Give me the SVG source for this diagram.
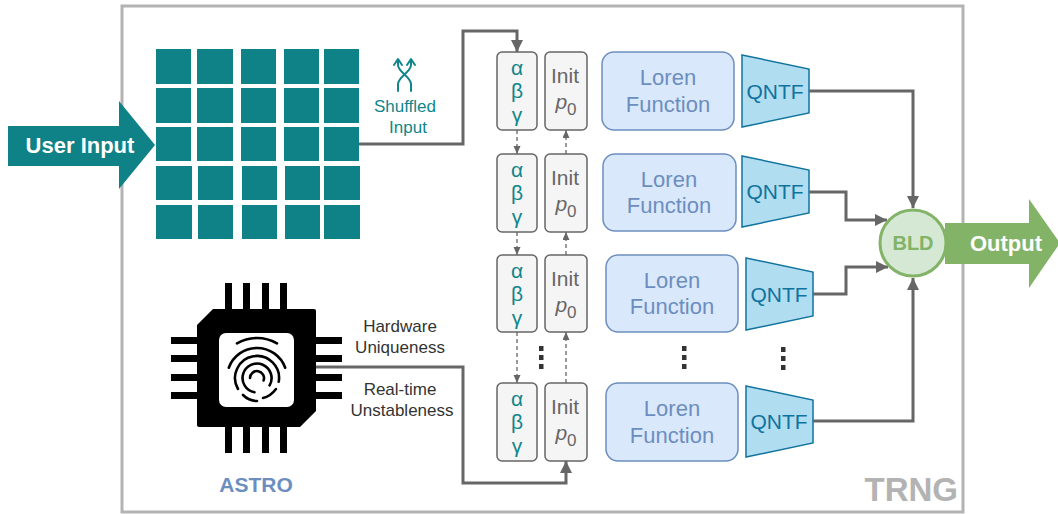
<svg xmlns="http://www.w3.org/2000/svg" width="1058" height="514" viewBox="0 0 1058 514">
  <style>
    text { font-family: "Liberation Sans", Arial, Helvetica, sans-serif; }
    .cell { fill: #0f8287; }
    .param { fill: #f5f5f5; stroke: #666666; stroke-width: 1.5; }
    .greek { fill: #10868a; font-size: 21px; text-anchor: middle; }
    .init { fill: #666666; font-size: 21px; text-anchor: middle; }
    .loren { fill: #dae8fc; stroke: #6c8ebf; stroke-width: 1.5; }
    .loren-t { fill: #6c8ebf; font-size: 22px; text-anchor: middle; }
    .qntf { fill: #b1ddf0; stroke: #10739e; stroke-width: 1.5; }
    .qntf-t { fill: #10739e; font-size: 21px; text-anchor: middle; }
    .label { fill: #333333; font-size: 17px; text-anchor: middle; }
    .wire { fill: none; stroke: #666666; stroke-width: 3; }
    .dash { fill: none; stroke: #666666; stroke-width: 1.3; stroke-dasharray: 4 3; }
    .dot { fill: #333333; }
    .pin { fill: #000000; }
  </style>
  <defs>
    <marker id="head" markerUnits="userSpaceOnUse" markerWidth="14" markerHeight="12" refX="12" refY="6" orient="auto">
      <path d="M0,0 L12,6 L0,12 Z" fill="#666666"/>
    </marker>
    <marker id="head-sm" markerUnits="userSpaceOnUse" markerWidth="9" markerHeight="8" refX="8" refY="3.5" orient="auto">
      <path d="M0,0 L8,3.5 L0,7 Z" fill="#666666"/>
    </marker>
  </defs>

  <!-- TRNG boundary -->
  <g id="trng-frame">
    <rect x="122" y="6" width="841" height="506" fill="#ffffff" stroke="#b3b3b3" stroke-width="3"/>
    <text x="958" y="501" font-size="33" font-weight="bold" fill="#b3b3b3" text-anchor="end">TRNG</text>
  </g>

  <!-- User input arrow -->
  <g id="user-input">
    <polygon points="8,126 119,126 119,101 155,145 119,189 119,166 8,166" fill="#0f8287"/>
    <text x="80" y="153" font-size="22" font-weight="bold" fill="#ffffff" text-anchor="middle">User Input</text>
  </g>

  <!-- Input matrix -->
  <g id="input-grid">
    <rect class="cell" x="156" y="49" width="35" height="35"/>
    <rect class="cell" x="197" y="49" width="36" height="35"/>
    <rect class="cell" x="241" y="49" width="35" height="35"/>
    <rect class="cell" x="284" y="49" width="35" height="35"/>
    <rect class="cell" x="324" y="49" width="35" height="35"/>
    <rect class="cell" x="156" y="88" width="35" height="35"/>
    <rect class="cell" x="197" y="88" width="36" height="35"/>
    <rect class="cell" x="241" y="88" width="35" height="35"/>
    <rect class="cell" x="284" y="88" width="35" height="35"/>
    <rect class="cell" x="324" y="88" width="35" height="35"/>
    <rect class="cell" x="156" y="127" width="35" height="34"/>
    <rect class="cell" x="197" y="127" width="36" height="34"/>
    <rect class="cell" x="241" y="127" width="35" height="34"/>
    <rect class="cell" x="284" y="127" width="35" height="34"/>
    <rect class="cell" x="324" y="127" width="35" height="34"/>
    <rect class="cell" x="156" y="166" width="36" height="34"/>
    <rect class="cell" x="198" y="166" width="35" height="34"/>
    <rect class="cell" x="242" y="166" width="35" height="34"/>
    <rect class="cell" x="285" y="166" width="35" height="34"/>
    <rect class="cell" x="324" y="166" width="36" height="34"/>
    <rect class="cell" x="156" y="205" width="36" height="34"/>
    <rect class="cell" x="198" y="205" width="35" height="34"/>
    <rect class="cell" x="242" y="205" width="35" height="34"/>
    <rect class="cell" x="285" y="205" width="35" height="34"/>
    <rect class="cell" x="324" y="205" width="36" height="34"/>
  </g>

  <!-- Shuffle label -->
  <g id="shuffle">
    <g fill="none" stroke="#10868a" stroke-width="2" stroke-linecap="round" stroke-linejoin="round">
      <path d="M398,91 L398,84 C398,77 411,72 411,65 L411,60"/>
      <path d="M411,91 L411,84 C411,77 398,72 398,65 L398,60"/>
      <path d="M394,65 L398,59 L402,65"/>
      <path d="M407,65 L411,59 L415,65"/>
    </g>
    <text x="405" y="112" font-size="17" fill="#10868a" text-anchor="middle">Shuffled</text>
    <text x="408" y="133" font-size="17" fill="#10868a" text-anchor="middle">Input</text>
  </g>

  <!-- ASTRO chip -->
  <g id="astro-chip">
    <rect class="pin" x="225" y="283" width="7" height="30"/>
    <rect class="pin" x="243" y="283" width="7" height="30"/>
    <rect class="pin" x="262" y="283" width="7" height="30"/>
    <rect class="pin" x="280" y="283" width="7" height="30"/>
    <rect class="pin" x="225" y="423" width="7" height="30"/>
    <rect class="pin" x="243" y="423" width="7" height="30"/>
    <rect class="pin" x="262" y="423" width="7" height="30"/>
    <rect class="pin" x="280" y="423" width="7" height="30"/>
    <rect class="pin" x="171" y="337" width="30" height="7"/>
    <rect class="pin" x="171" y="355" width="30" height="7"/>
    <rect class="pin" x="171" y="374" width="30" height="7"/>
    <rect class="pin" x="171" y="392" width="30" height="7"/>
    <rect class="pin" x="312" y="337" width="30" height="7"/>
    <rect class="pin" x="312" y="355" width="30" height="7"/>
    <rect class="pin" x="312" y="374" width="30" height="7"/>
    <rect class="pin" x="312" y="392" width="30" height="7"/>
    <path d="M213,309 L314,309 Q316,309 316,311 L316,411 L300,427 L199,427 Q197,427 197,425 L197,325 Z" fill="#000000"/>
    <rect x="219" y="333" width="75" height="74" rx="7" fill="#ffffff"/>
    <!-- fingerprint whorl -->
    <g fill="none" stroke="#000000" stroke-width="2.6" stroke-linecap="round">
      <path d="M237,343.4 A40,40 0 0 1 277,343.4"/>
      <path d="M228.8,367.7 A30,30 0 0 1 285.2,367.7"/>
      <path d="M238,389 A22,22 0 1 1 278.7,381.8"/>
      <path d="M254.5,392.3 A14.5,14.5 0 1 1 269.6,385.3"/>
      <path d="M250,378 A7,7 0 1 1 263.6,380.4"/>
      <path d="M243,395 C247,399 252,401 257,401"/>
      <path d="M263,398 C268,397 273,393 276,389"/>
    </g>
    <text x="256" y="492" font-size="21" font-weight="bold" fill="#6c8ebf" text-anchor="middle">ASTRO</text>
  </g>

  <!-- Entropy source labels -->
  <g id="hw-labels">
    <text class="label" x="400" y="332">Hardware</text>
    <text class="label" x="400" y="353">Uniqueness</text>
    <text class="label" x="400" y="395">Real-time</text>
    <text class="label" x="402" y="416">Unstableness</text>
  </g>

  <!-- Parameter / seed column -->
  <g id="params-1">
    <rect class="param" x="497" y="52" width="40" height="78" rx="5"/>
    <text class="greek" x="517" y="75">α</text>
    <text class="greek" x="517" y="98">β</text>
    <text class="greek" x="517" y="122">γ</text>
  </g>
  <g id="init-1">
    <rect class="param" x="545" y="52" width="42" height="78" rx="5"/>
    <text class="init" x="565" y="83">Init</text>
    <text class="init" x="566" y="109"><tspan font-style="italic">p</tspan><tspan dy="6" font-size="17">0</tspan></text>
  </g>
  <g id="params-2">
    <rect class="param" x="497" y="154" width="40" height="78" rx="5"/>
    <text class="greek" x="517" y="177">α</text>
    <text class="greek" x="517" y="200">β</text>
    <text class="greek" x="517" y="224">γ</text>
  </g>
  <g id="init-2">
    <rect class="param" x="545" y="154" width="42" height="78" rx="5"/>
    <text class="init" x="565" y="185">Init</text>
    <text class="init" x="566" y="211"><tspan font-style="italic">p</tspan><tspan dy="6" font-size="17">0</tspan></text>
  </g>
  <g id="params-3">
    <rect class="param" x="497" y="255" width="40" height="77" rx="5"/>
    <text class="greek" x="517" y="278">α</text>
    <text class="greek" x="517" y="301">β</text>
    <text class="greek" x="517" y="325">γ</text>
  </g>
  <g id="init-3">
    <rect class="param" x="545" y="255" width="42" height="77" rx="5"/>
    <text class="init" x="565" y="286">Init</text>
    <text class="init" x="566" y="312"><tspan font-style="italic">p</tspan><tspan dy="6" font-size="17">0</tspan></text>
  </g>
  <g id="params-n">
    <rect class="param" x="497" y="383" width="40" height="78" rx="5"/>
    <text class="greek" x="517" y="406">α</text>
    <text class="greek" x="517" y="429">β</text>
    <text class="greek" x="517" y="453">γ</text>
  </g>
  <g id="init-n">
    <rect class="param" x="545" y="383" width="42" height="78" rx="5"/>
    <text class="init" x="565" y="414">Init</text>
    <text class="init" x="566" y="440"><tspan font-style="italic">p</tspan><tspan dy="6" font-size="17">0</tspan></text>
  </g>

  <!-- Loren function blocks -->
  <g id="loren-1">
    <rect class="loren" x="602" y="52" width="132" height="78" rx="12"/>
    <text class="loren-t" x="668" y="85">Loren</text>
    <text class="loren-t" x="668" y="112">Function</text>
  </g>
  <g id="loren-2">
    <rect class="loren" x="603" y="154" width="133" height="77" rx="12"/>
    <text class="loren-t" x="669" y="187">Loren</text>
    <text class="loren-t" x="669" y="213">Function</text>
  </g>
  <g id="loren-3">
    <rect class="loren" x="606" y="255" width="132" height="77" rx="12"/>
    <text class="loren-t" x="672" y="288">Loren</text>
    <text class="loren-t" x="672" y="314">Function</text>
  </g>
  <g id="loren-n">
    <rect class="loren" x="606" y="383" width="132" height="78" rx="12"/>
    <text class="loren-t" x="672" y="416">Loren</text>
    <text class="loren-t" x="672" y="443">Function</text>
  </g>

  <!-- Quantizers -->
  <g id="qntf-1">
    <polygon class="qntf" points="742,55 809,69 809,113 742,127"/>
    <text class="qntf-t" x="775" y="98.5">QNTF</text>
  </g>
  <g id="qntf-2">
    <polygon class="qntf" points="742,156 809,170 809,213 742,227"/>
    <text class="qntf-t" x="775" y="199">QNTF</text>
  </g>
  <g id="qntf-3">
    <polygon class="qntf" points="746,258 813,272 813,316 746,330"/>
    <text class="qntf-t" x="779" y="301.5">QNTF</text>
  </g>
  <g id="qntf-n">
    <polygon class="qntf" points="746,386 813,400 813,443 746,457"/>
    <text class="qntf-t" x="779" y="429">QNTF</text>
  </g>

  <!-- Ellipsis for repeated stages -->
  <g id="ellipsis">
    <rect class="dot" x="539" y="346" width="4.5" height="5"/>
    <rect class="dot" x="539" y="355" width="4.5" height="5"/>
    <rect class="dot" x="539" y="364" width="4.5" height="5"/>
    <rect class="dot" x="682" y="346" width="4.5" height="5"/>
    <rect class="dot" x="682" y="355" width="4.5" height="5"/>
    <rect class="dot" x="682" y="364" width="4.5" height="5"/>
    <rect class="dot" x="781" y="347" width="4.5" height="5"/>
    <rect class="dot" x="781" y="356" width="4.5" height="5"/>
    <rect class="dot" x="781" y="365" width="4.5" height="5"/>
  </g>

  <!-- Connectors -->
  <g id="connectors">
    <path class="wire" d="M359,144 H463 V31 H517 V52" marker-end="url(#head)"/>
    <path class="wire" d="M316,367 H463 V483 H566 V461" marker-end="url(#head)"/>
    <path class="dash" d="M517,130 V154" marker-end="url(#head-sm)"/>
    <path class="dash" d="M517,232 V255" marker-end="url(#head-sm)"/>
    <path class="dash" d="M517,332 V383" marker-end="url(#head-sm)"/>
    <path class="dash" d="M566,154 V130" marker-end="url(#head-sm)"/>
    <path class="dash" d="M566,255 V232" marker-end="url(#head-sm)"/>
    <path class="dash" d="M566,383 V332" marker-end="url(#head-sm)"/>
    <path class="wire" d="M809,91 H913 V208" marker-end="url(#head)"/>
    <path class="wire" d="M809,192 H846 V220 H887" marker-end="url(#head)"/>
    <path class="wire" d="M813,294 H846 V267 H888" marker-end="url(#head)"/>
    <path class="wire" d="M813,421 H913 V278" marker-end="url(#head)"/>
  </g>

  <!-- Output arrow -->
  <g id="output">
    <polygon points="945,223 1029,223 1029,199 1060,243 1029,288 1029,264 945,264" fill="#82b366"/>
    <text x="1006" y="251" font-size="22" font-weight="bold" fill="#ffffff" text-anchor="middle">Output</text>
  </g>

  <!-- Bit-level decorrelator -->
  <g id="bld">
    <circle cx="913" cy="243" r="33" fill="#d5e8d4" stroke="#82b366" stroke-width="3"/>
    <text x="913" y="250" font-size="20" font-weight="bold" fill="#82b366" text-anchor="middle">BLD</text>
  </g>
</svg>
